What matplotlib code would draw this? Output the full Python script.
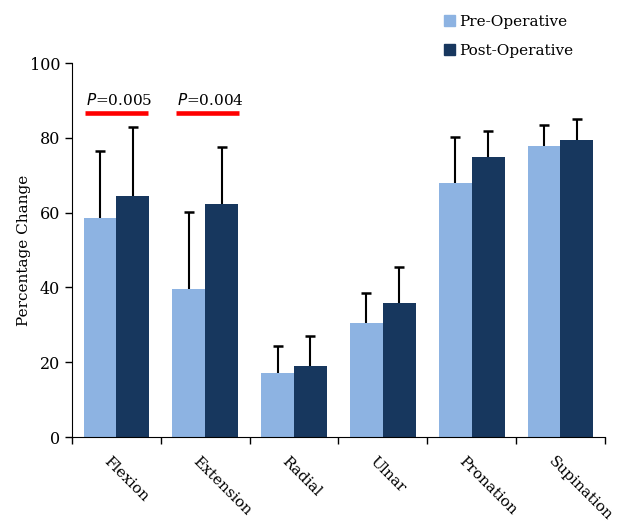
import matplotlib.pyplot as plt
import numpy as np
from matplotlib.patches import Patch

plt.rcParams['font.family'] = ['DejaVu Serif']

categorias = ['Flexion', 'Extension', 'Radial', 'Ulnar', 'Pronation', 'Supination']
pre = [58.6, 39.5, 17.1, 30.4, 67.9, 77.9]
pre_sd = [17.9, 20.6, 7.1, 8.0, 12.4, 5.6]
post = [64.4, 62.2, 19.0, 35.7, 75.0, 79.4]
post_sd = [18.4, 15.4, 7.9, 9.7, 6.8, 5.7]
p_textos = ['0.005', '0.004']

color_pre = '#8DB3E2'
color_post = '#17375E'

fig = plt.figure(figsize=(6.24, 5.25), dpi=100)
ax = fig.add_axes([0.1154, 0.1676, 0.854, 0.7124])

x = np.arange(len(categorias))
w = 0.37
series = [(x - w/2, pre, pre_sd, color_pre), (x + w/2, post, post_sd, color_post)]
for xs, vals, sd, col in series:
    ax.bar(xs, vals, w, color=col, edgecolor='none')
    tops = np.array(vals) + np.array(sd)
    # solo la mitad superior del error, como en el original
    ax.vlines(xs, vals, tops, color='black', lw=1.5)
    ax.plot(xs, tops, ls='none', marker='_', ms=7, mew=1.8, color='black')

ax.set_xlim(-0.5, len(categorias) - 0.5)
ax.set_ylim(0, 100)
ax.set_yticks([0, 20, 40, 60, 80, 100])
ax.set_xticks(np.arange(len(categorias) + 1) - 0.5)
ax.set_xticklabels([])
ax.tick_params(axis='y', labelsize=11.5, length=5, width=1)
ax.tick_params(axis='x', length=5, width=1)
ax.spines['top'].set_visible(False)
ax.spines['right'].set_visible(False)
ax.set_ylabel('Percentage Change', fontsize=11, labelpad=-1)

for i, c in enumerate(categorias):
    ax.text(i - 0.06, -4.5, c, rotation=-45, rotation_mode='anchor',
            ha='left', va='top', fontsize=11)

# lineas rojas de significancia
lineas = [(-0.35, 0.36), (-0.33, 0.38)]
centros = [0.03, 0.06]
for i in range(2):
    ax.plot([i + lineas[i][0], i + lineas[i][1]], [86.6, 86.6], color='red',
            lw=3.3, solid_capstyle='butt', clip_on=False)
    ax.text(i + centros[i], 88, r'$\it{P}$=' + p_textos[i], ha='center',
            va='bottom', fontsize=11)

handles = [Patch(color=color_pre, label='Pre-Operative'),
           Patch(color=color_post, label='Post-Operative')]
fig.legend(handles=handles, loc='upper left', bbox_to_anchor=(0.690, 0.998),
           frameon=False, fontsize=11, handlelength=0.7, handleheight=0.7,
           handletextpad=0.3, labelspacing=1.0)

plt.savefig('out.png', dpi=100)
